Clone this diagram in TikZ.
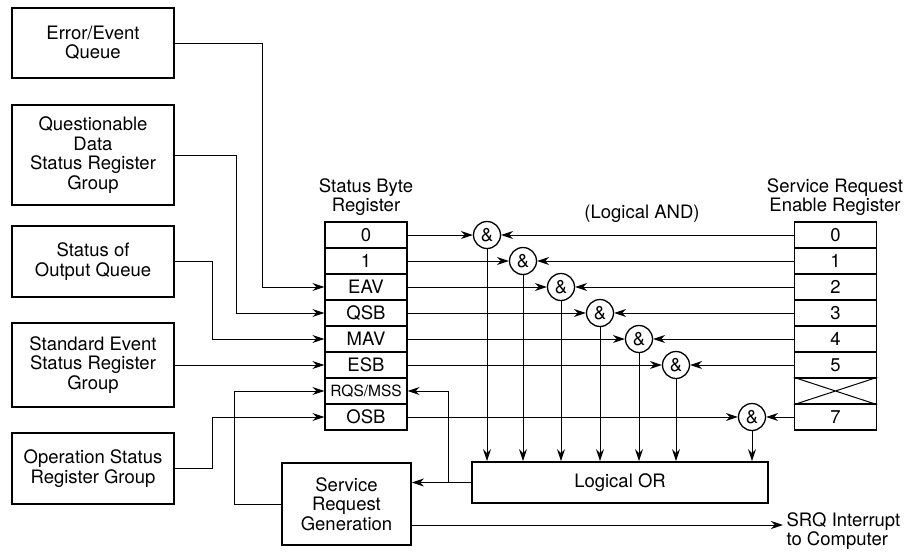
\documentclass[tikz,border=0pt]{standalone}
\usepackage{fontspec}
\setmainfont{TeX Gyre Heros}
\usetikzlibrary{arrows.meta, positioning}

\newcommand\lbl{\fontsize{18.5}{19.5}\selectfont}
\newcommand\rqs{\fontsize{15.5}{16}\selectfont}

\tikzset{
  srcbox/.style={draw, line width=1.9pt, minimum width=162pt, align=center, inner sep=0pt},
  regrow/.style={draw, line width=1.3pt, minimum width=82pt, minimum height=26pt, inner sep=0pt},
  gate/.style={draw, circle, line width=1.3pt, minimum size=27pt, inner sep=0pt, fill=white},
  sig/.style={line width=1pt, -{Stealth[length=12pt, width=8pt]}},
}

\begin{document}
\begin{tikzpicture}[x=1pt, y=-1pt, font=\lbl]
        \useasboundingbox (0,0) rectangle (906,557);

        % sources on the left
        \node[srcbox, minimum height=70pt] (err) at (93,43) {Error/Event\\Queue};
        \node[srcbox, minimum height=100pt] (qdr) at (93,155) {Questionable\\Data\\Status Register\\Group};
        \node[srcbox, minimum height=71pt] (oq) at (93,261.5) {Status of\\Output Queue};
        \node[srcbox, minimum height=84pt] (ses) at (93,365) {Standard Event\\Status Register\\Group};
        \node[srcbox, minimum height=71pt] (ops) at (93,468.5) {Operation Status\\Register Group};

        % status byte and enable registers
        \node[align=center] (sbtitle) at (366,197) {Status Byte\\Register};
        \foreach \lab [count=\n from 0] in {0,1,EAV,QSB,MAV,ESB,{\rqs RQS/MSS},OSB}
            \node[regrow] (sb\n) at (366,235+26*\n) {\lab};

        \node[align=center] (sretitle) at (835,197) {Service Request\\Enable Register};
        \foreach \lab [count=\n from 0] in {0,1,2,3,4,5,{},7}
            \node[regrow] (sre\n) at (835.5,235+26*\n) {\lab};
        \draw[line width=1pt] (sre6.north west) -- (sre6.south east) (sre6.south west) -- (sre6.north east);

        \node (andlbl) at (642,214) {(Logical AND)};

        \node[draw, line width=1.7pt, minimum width=296pt, minimum height=41pt] (or) at (620,482.5) {Logical OR};
        \node[draw, line width=1.9pt, minimum width=129pt, minimum height=82pt, align=center] (srg) at (346.5,504) {Service\\Request\\Generation};

        % AND gates
        \foreach \i/\gx in {0/487,1/523,2/561,3/600,4/639,5/676,7/752} {
            \node[gate] (g\i) at (\gx,235+26*\i) {\&};
            \draw[sig] (sb\i.east) -- (g\i.west);
            \draw[sig] (sre\i.west) -- (g\i.east);
            \draw[sig] (g\i.south) -- (g\i.south |- or.north);
        }

        % inputs to the status byte
        \draw[sig] (err.east) -- ++(88,0) |- (sb2.west);
        \draw[sig] (qdr.east) -- ++(62,0) |- (sb3.west);
        \draw[sig] (oq.east) -- ++(38,0) |- (sb4.west);
        \draw[sig] (ses.east) -- (sb5.west);
        \draw[sig] (ops.east) -- ++(38,0) |- (sb7.west);
        \draw[sig] (srg.west) -- ++(-47,0) |- (sb6.west);

        % service request
        \coordinate (split) at ([xshift=-23pt]or.west);
        \draw[sig] (or.west) -- (or.west -| srg.east);
        \draw[sig] (split) |- (sb6.east);

        \node[align=left, anchor=west] (srq) at (783,531) {SRQ Interrupt\\to Computer};
        \draw[sig] ([yshift=-21pt]srg.east) -- ([yshift=-21pt]srg.east -| srq.west);
    \end{tikzpicture}
\end{document}
